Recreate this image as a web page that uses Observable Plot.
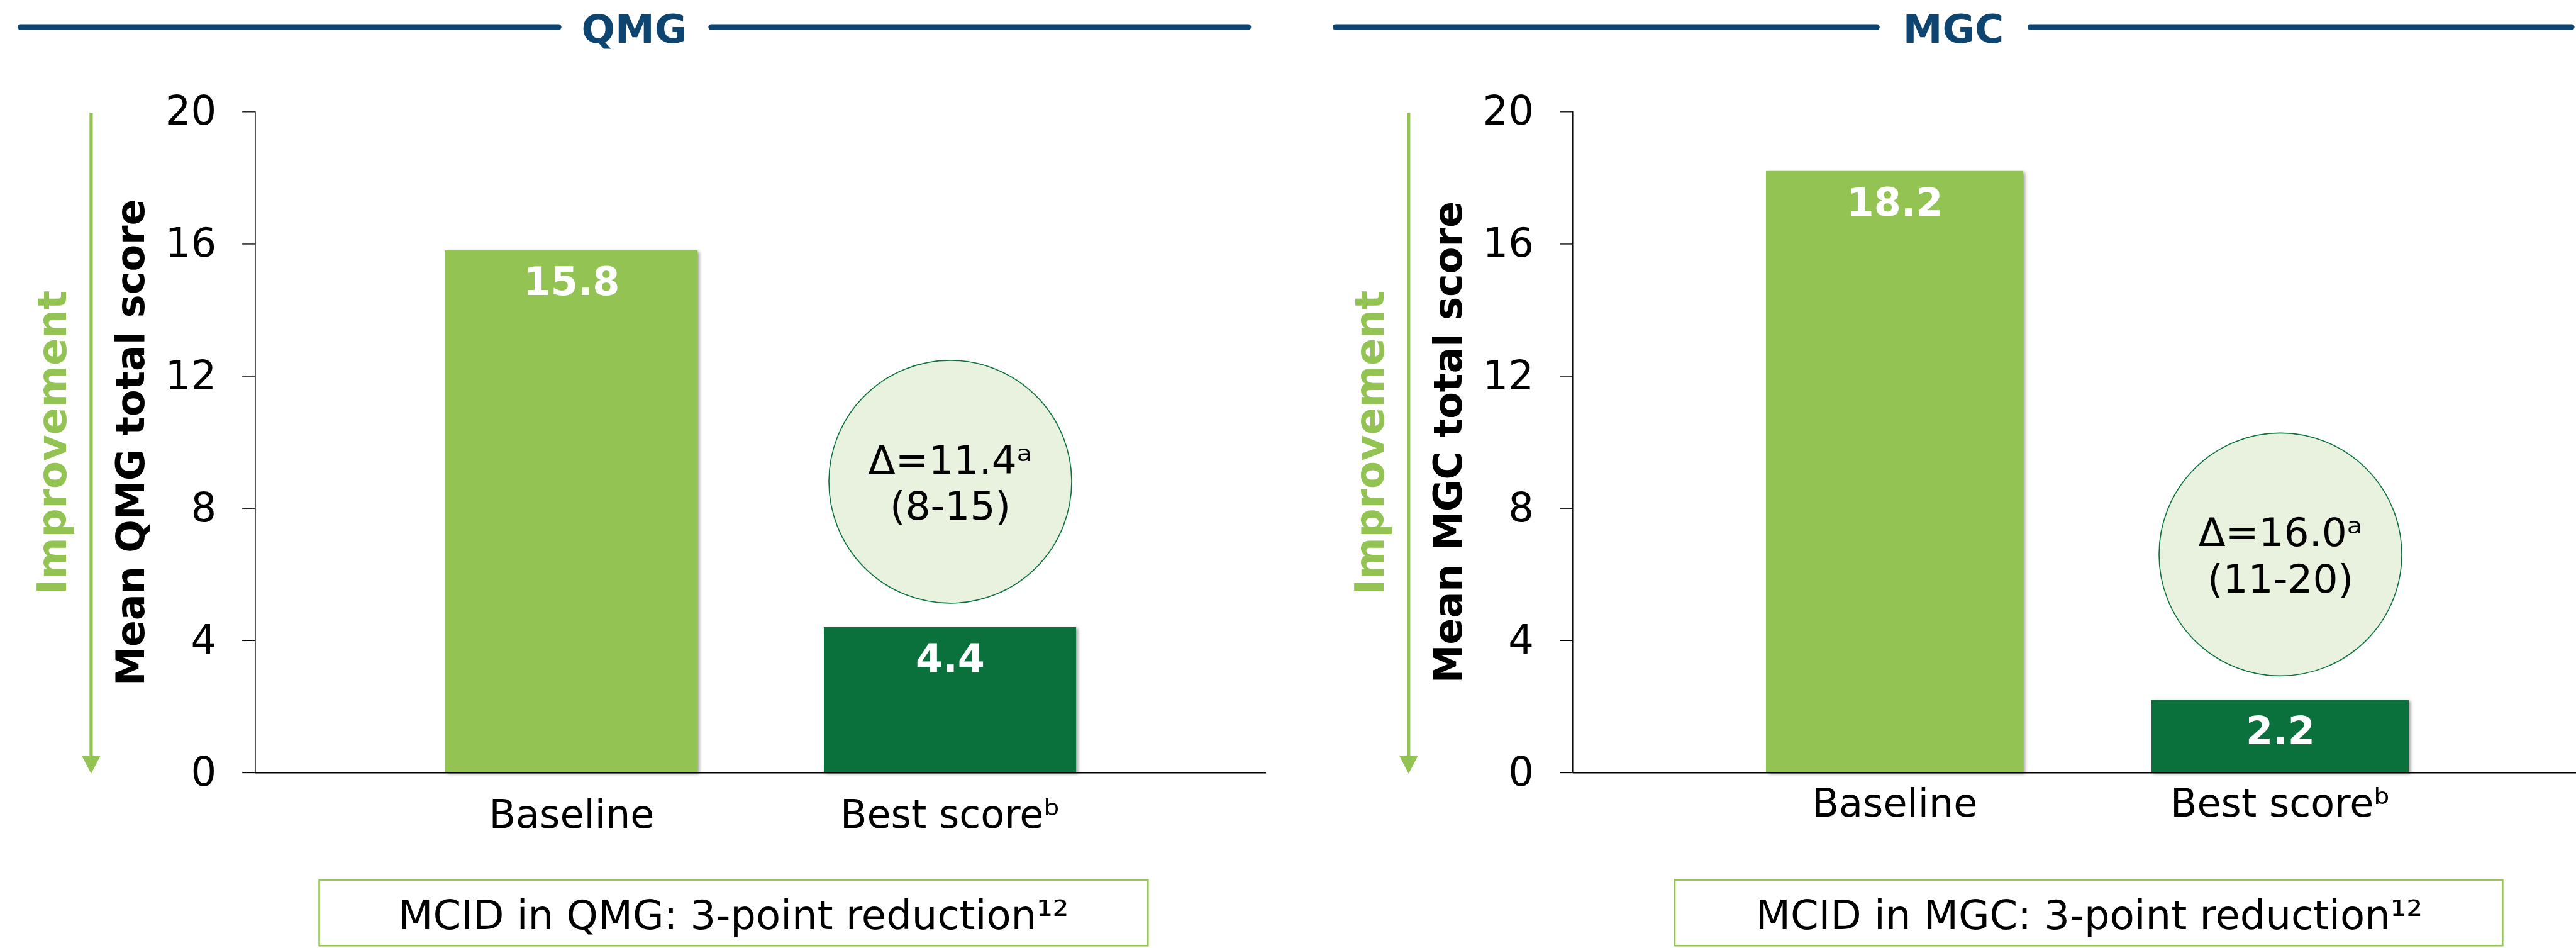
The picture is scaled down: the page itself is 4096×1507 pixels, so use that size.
<!DOCTYPE html>
<html>
<head>
<meta charset="utf-8">
<script src="https://cdn.jsdelivr.net/npm/d3@7"></script>
<script src="https://cdn.jsdelivr.net/npm/@observablehq/plot@0.6"></script>
<style>
  html, body { margin: 0; padding: 0; background: #ffffff; }
  body { width: 4096px; height: 1507px; overflow: hidden; position: relative; font-family: "DejaVu Sans", Verdana, sans-serif; }
  .panel { position: absolute; top: 0; overflow: visible; }
  .panel svg { overflow: visible; max-width: none !important; }
  .panel g[aria-label="bar"] { filter: drop-shadow(3px 2px 2.5px rgba(0,0,0,0.38)); }
  #overlay { position: absolute; left: 0; top: 0; }
</style>
</head>
<body>
<div id="left" class="panel" style="left:0px; width:2046px;"></div>
<div id="right" class="panel" style="left:2046px; width:2100px;"></div>
<svg id="overlay" width="4096" height="1507"></svg>
<script>
// ---------------- data ----------------
const categories = ["Baseline", "Best score"];
const xTickLabels = ["Baseline", "Best scoreᵇ"];
const qmgValues = [15.8, 4.4];
const mgcValues = [18.2, 2.2];
const qmgDelta = "Δ=11.4ᵃ\n(8-15)";
const mgcDelta = "Δ=16.0ᵃ\n(11-20)";
const panelTitles = ["QMG", "MGC"];
const yTitles = ["Mean QMG total score", "Mean MGC total score"];
const mcidNotes = ["MCID in QMG: 3-point reduction¹²", "MCID in MGC: 3-point reduction¹²"];
const yTicks = [0, 4, 8, 12, 16, 20];
const arrowLabel = "Improvement";

// ---------------- style ----------------
const S = 0.742;
const LIGHT = "#92c353";
const DARK = "#0a703c";
const NAVY = "#0e4470";
const BUBBLE_FILL = "#e8f2de";
const FONT = "DejaVu Sans";

function axisAndArrow(offset) {
  return (index, scales, values, dimensions) => {
    const {marginLeft, marginTop, height, marginBottom} = dimensions;
    const y = scales && typeof scales.y === "function" ? scales.y : null;
    const yTop = y ? y(20) : marginTop;
    const yBot = y ? y(0) : height - marginBottom;
    const g = d3.create("svg:g");
    // y axis line
    g.append("line").attr("x1", marginLeft).attr("x2", marginLeft)
      .attr("y1", yTop).attr("y2", yBot).attr("stroke", "#000").attr("stroke-width", 1.5);
    // improvement arrow
    const ax = marginLeft + offset;
    const head = 29, hw = 15;
    g.append("line").attr("x1", ax).attr("x2", ax)
      .attr("y1", yTop + 2).attr("y2", yBot + 2 - head + 1)
      .attr("stroke", LIGHT).attr("stroke-width", 5.2);
    g.append("path")
      .attr("d", `M${ax - hw},${yBot + 2 - head}L${ax + hw},${yBot + 2 - head}L${ax},${yBot + 2}Z`)
      .attr("fill", LIGHT);
    return g.node();
  };
}

function panel(cfg) {
  const data = categories.map((c, i) => ({category: c, value: cfg.values[i]}));
  const best = data.filter(d => d.category === "Best score");
  return Plot.plot({
    width: cfg.width,
    height: 1400,
    marginTop: 177.3,
    marginBottom: 172,
    marginLeft: cfg.marginLeft,
    marginRight: cfg.marginRight,
    style: {fontFamily: FONT, fontSize: "64px", color: "#000", background: "transparent", overflow: "visible", maxWidth: "none"},
    x: {domain: categories, paddingInner: 1 / 3, paddingOuter: 0.5, align: 0.5},
    y: {domain: [0, 20]},
    marks: [
      Plot.barY(data, {x: "category", y: "value", fill: d => d.category === "Baseline" ? LIGHT : DARK}),
      Plot.ruleY([0], {stroke: "#000", strokeWidth: 2}),
      Plot.axisY({ticks: yTicks, tickSize: 20.8, tickPadding: 41.5, fontSize: 64, label: null, stroke: "#000", strokeWidth: 1.3}),
      Plot.axisX({tickSize: 0, tickPadding: cfg.xPad, fontSize: 62, label: null,
        tickFormat: d => xTickLabels[categories.indexOf(d)]}),
      axisAndArrow(-261),
      Plot.text(data, {x: "category", y: "value", text: d => d.value.toFixed(1), dy: 50.5,
        fill: "#fff", fontWeight: "bold", fontSize: 62, lineAnchor: "middle"}),
      Plot.dot(best, {x: "category", y: "value", dy: -231.5, r: 193,
        fill: BUBBLE_FILL, stroke: DARK, strokeWidth: 1.6}),
      Plot.text(best, {x: "category", y: "value", dy: -231.5, text: () => cfg.delta,
        fontSize: 63, lineHeight: 1.17, lineAnchor: "middle", fill: "#000"}),
      Plot.text([cfg.yTitle], {frameAnchor: "left", text: d => d, rotate: -90, dx: -197,
        textAnchor: "middle", fontWeight: "bold", fontSize: 62, lineAnchor: "middle", fill: "#000"}),
      Plot.text([arrowLabel], {frameAnchor: "left", text: d => d, rotate: -90, dx: -322,
        textAnchor: "middle", fontWeight: "bold", fontSize: 64, lineAnchor: "middle", fill: LIGHT})
    ]
  });
}

document.getElementById("left").append(panel({
  values: qmgValues, delta: qmgDelta, yTitle: yTitles[0],
  width: 2046, marginLeft: 405.9, marginRight: 33, xPad: 43
}));
document.getElementById("right").append(panel({
  values: mgcValues, delta: mgcDelta, yTitle: yTitles[1],
  width: 2100, marginLeft: 454.8, marginRight: 9.8, xPad: 25
}));

// ---------------- headers & MCID boxes ----------------
const ov = d3.select("#overlay");
const headers = [
  {title: panelTitles[0], cx: 1359 * S, l1: [44 * S, 1197 * S], l2: [1524 * S, 2675 * S]},
  {title: panelTitles[1], cx: 4186 * S, l1: [2862 * S, 4022 * S], l2: [4351 * S, 5511 * S]}
];
headers.forEach(h => {
  [h.l1, h.l2].forEach(([a, b]) => {
    ov.append("line").attr("x1", a).attr("x2", b).attr("y1", 58 * S).attr("y2", 58 * S)
      .attr("stroke", NAVY).attr("stroke-width", 9).attr("stroke-linecap", "round");
  });
  ov.append("text").attr("x", h.cx).attr("y", 91 * S).attr("text-anchor", "middle")
    .attr("font-family", FONT).attr("font-weight", "bold").attr("font-size", 63)
    .attr("fill", NAVY).text(h.title);
});
const boxes = [
  {x0: 684 * S, x1: 2460 * S, cx: 1572 * S, text: mcidNotes[0]},
  {x0: 3589 * S, x1: 5363 * S, cx: 4477 * S, text: mcidNotes[1]}
];
boxes.forEach(b => {
  ov.append("rect").attr("x", b.x0).attr("y", 1885 * S).attr("width", b.x1 - b.x0)
    .attr("height", 2026 * S - 1885 * S).attr("fill", "none").attr("stroke", LIGHT).attr("stroke-width", 2.5);
  ov.append("text").attr("x", b.cx).attr("y", 1990 * S).attr("text-anchor", "middle")
    .attr("font-family", FONT).attr("font-size", 64).attr("fill", "#000").text(b.text);
});
</script>
</body>
</html>
